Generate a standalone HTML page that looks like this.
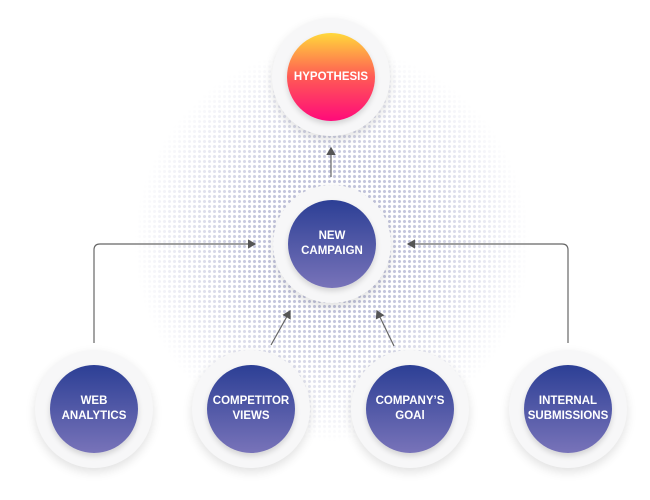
<!DOCTYPE html>
<html><head><style>
html,body{margin:0;padding:0;background:#fff;width:650px;height:500px;overflow:hidden}
.halo{position:absolute;left:132px;top:44px;width:400px;height:400px;border-radius:50%;
background-image:radial-gradient(circle,#c3c5dc 1.3px,transparent 1.8px);background-size:5px 5px;
-webkit-mask-image:radial-gradient(circle,#000 28%,rgba(0,0,0,.6) 45%,transparent 70%);
mask-image:radial-gradient(circle,#000 28%,rgba(0,0,0,.6) 45%,transparent 70%)}
.o{position:absolute;width:118px;height:118px;border-radius:50%;background:#f7f7f8;box-shadow:0 4px 10px rgba(0,0,0,.12)}
.i{position:absolute;left:15px;top:15px;width:88px;height:88px;border-radius:50%;
background:linear-gradient(#2c3f95,#7873b9);display:flex;align-items:center;justify-content:center;text-align:center;
color:#fff;font:bold 11.5px/15px "Liberation Sans",sans-serif;box-shadow:0 3px 6px rgba(0,0,0,.15)}
.h{background:linear-gradient(#ffd83a,#ff5a55 50%,#ff0a7a)}
svg{position:absolute;left:0;top:0}
</style></head><body>
<div class="halo"></div>
<svg width="650" height="500">
<defs><marker id="a" markerWidth="8" markerHeight="8" refX="6" refY="4" orient="auto"><path d="M0,0 L7,4 L0,8 Z" fill="#555"/></marker></defs>
<g stroke="#666" stroke-width="1.2" fill="none" marker-end="url(#a)">
<path d="M331,177 L331,148"/>
<path d="M94,343 L94,250 Q94,244 100,244 L255,244"/>
<path d="M568,343 L568,250 Q568,244 562,244 L408,244"/>
<path d="M271,345 L290,311"/>
<path d="M394,346 L377,311"/>
</g></svg>
<div class="o" style="left:272px;top:18px"><div class="i h">HYPOTHESIS</div></div>
<div class="o" style="left:273px;top:185px"><div class="i">NEW<br>CAMPAIGN</div></div>
<div class="o" style="left:35px;top:350px"><div class="i">WEB<br>ANALYTICS</div></div>
<div class="o" style="left:192px;top:350px"><div class="i">COMPETITOR<br>VIEWS</div></div>
<div class="o" style="left:351px;top:350px"><div class="i">COMPANY’S<br>GOAl</div></div>
<div class="o" style="left:509px;top:350px"><div class="i">INTERNAL<br>SUBMISSIONS</div></div>
</body></html>
